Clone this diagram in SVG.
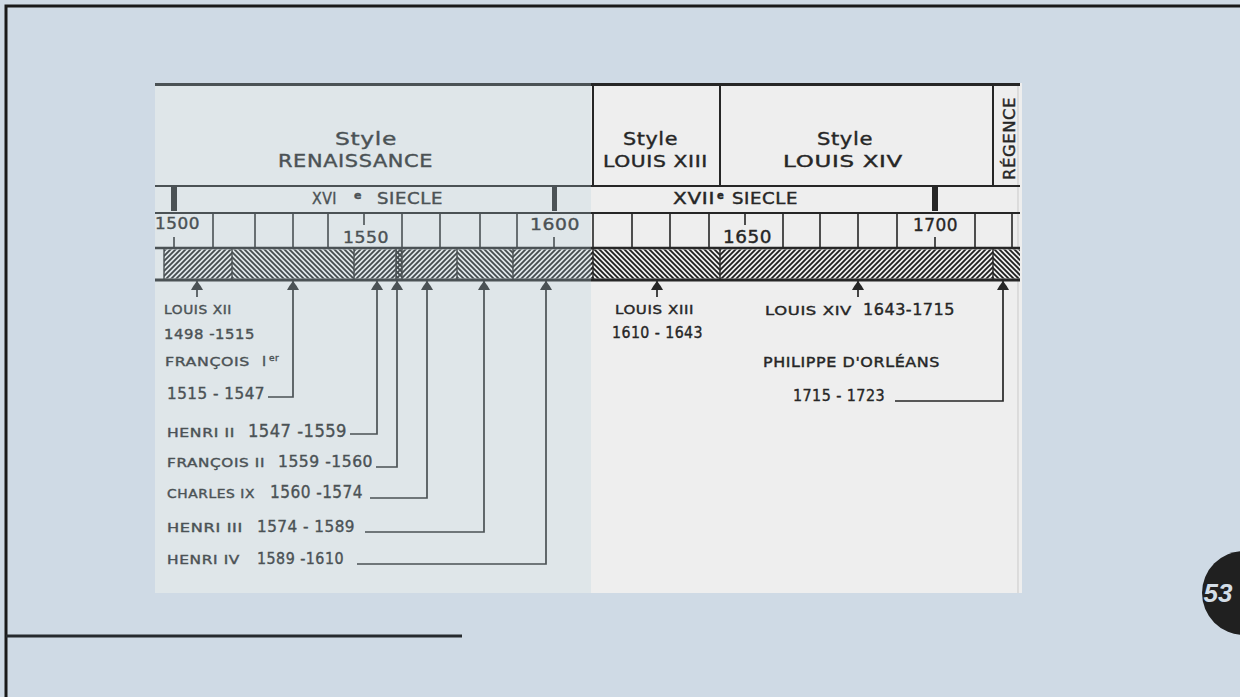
<svg xmlns="http://www.w3.org/2000/svg" width="1240" height="697" viewBox="0 0 1240 697">
<style>
.ink{stroke:#262626;fill:none}
.t{font-family:"DejaVu Sans","Liberation Sans",sans-serif;fill:#262626;stroke:#262626;stroke-width:0.4;letter-spacing:0.5px}
.cn{stroke:#262626;stroke-width:1.7;fill:none;marker-start:url(#ah)}
</style>
<defs>
<pattern id="hf" width="5" height="5" patternUnits="userSpaceOnUse"><path d="M-1,1 L1,-1 M0,5 L5,0 M4,6 L6,4" stroke="#1e1e1e" stroke-width="1.8"/></pattern>
<pattern id="hb" width="5" height="5" patternUnits="userSpaceOnUse"><path d="M-1,4 L1,6 M0,0 L5,5 M4,-1 L6,1" stroke="#1e1e1e" stroke-width="1.8"/></pattern>
<marker id="ah" viewBox="0 0 9 12" refX="9" refY="6" markerWidth="9" markerHeight="12" markerUnits="userSpaceOnUse" orient="auto-start-reverse"><path d="M0,0 Q4,2 9,6 Q4,10 0,12 Z" fill="#262626"/></marker>
</defs>
<rect width="1240" height="697" fill="#cfdae5"/>
<path d="M6,697 V6 H1240" stroke="#1a1a1a" stroke-width="3" fill="none"/>
<line x1="6" y1="636" x2="462" y2="636" stroke="#262a2e" stroke-width="3"/>

<g id="scan">
<rect x="155" y="83" width="867" height="510" fill="#eeeeee"/>
<line x1="1018" y1="83" x2="1018" y2="593" stroke="#c9c9c9" stroke-width="1"/>
<g id="grid" class="ink">
<line x1="155" y1="84.5" x2="1020" y2="84.5" stroke-width="3"/>
<line x1="155" y1="186" x2="1020" y2="186" stroke-width="2"/>
<line x1="155" y1="213" x2="1020" y2="213" stroke-width="2"/>
<line x1="155" y1="248" x2="1020" y2="248" stroke-width="2.5"/>
<line x1="155" y1="280" x2="1020" y2="280" stroke-width="3"/>
<path d="M593,84 V186 M720,84 V186 M993,84 V186" stroke-width="2"/>
<path d="M213,213 V248 M255,213 V248 M293,213 V248 M328,213 V248 M402,213 V248 M440,213 V248 M480,213 V248 M517,213 V248 M593,213 V248 M632,213 V248 M670,213 V248 M709,213 V248 M783,213 V248 M820,213 V248 M858,213 V248 M897,213 V248 M975,213 V248 M1012,213 V248" stroke-width="1.6"/>
<path d="M174,237 V248 M364,213 V225 M554,237 V248 M745,213 V225 M935,237 V248" stroke-width="1.6"/>
</g>
<g id="siecle-marks" fill="#262626">
<rect x="171" y="187" width="6" height="24"/>
<rect x="552" y="187" width="5" height="24"/>
<rect x="932" y="187" width="6" height="24"/>
</g>
<g id="hatch-band">
<rect x="164" y="249.5" width="68" height="29" fill="url(#hf)"/>
<rect x="232" y="249.5" width="122" height="29" fill="url(#hb)"/>
<rect x="354" y="249.5" width="42" height="29" fill="url(#hf)"/>
<rect x="396" y="249.5" width="6" height="29" fill="url(#hf)"/>
<rect x="396" y="249.5" width="6" height="29" fill="url(#hb)"/>
<rect x="402" y="249.5" width="55" height="29" fill="url(#hf)"/>
<rect x="457" y="249.5" width="56" height="29" fill="url(#hb)"/>
<rect x="513" y="249.5" width="80" height="29" fill="url(#hf)"/>
<rect x="593" y="249.5" width="127" height="29" fill="url(#hb)"/>
<rect x="720" y="249.5" width="273" height="29" fill="url(#hf)"/>
<rect x="993" y="249.5" width="27" height="29" fill="url(#hb)"/>
<path class="ink" d="M164,248 V280 M232,248 V280 M354,248 V280 M396,248 V280 M402,248 V280 M457,248 V280 M513,248 V280 M593,248 V280 M720,248 V280 M993,248 V280" stroke-width="1.4"/>
</g>
</g>

<g id="style-renaissance">
<text class="t" x="335" y="145" font-size="18" textLength="62" lengthAdjust="spacingAndGlyphs">Style</text>
<text class="t" x="278" y="167" font-size="17" textLength="155" lengthAdjust="spacingAndGlyphs">RENAISSANCE</text>
</g>
<g id="style-louis-xiii">
<text class="t" x="623" y="145" font-size="18" textLength="55" lengthAdjust="spacingAndGlyphs">Style</text>
<text class="t" x="603" y="167" font-size="16" textLength="105" lengthAdjust="spacingAndGlyphs">LOUIS XIII</text>
</g>
<g id="style-louis-xiv">
<text class="t" x="817" y="145" font-size="18" textLength="56" lengthAdjust="spacingAndGlyphs">Style</text>
<text class="t" x="783" y="167" font-size="16" textLength="120" lengthAdjust="spacingAndGlyphs">LOUIS XIV</text>
</g>
<g id="regence">
<text class="t" transform="translate(1015,180) rotate(-90)" font-size="15" textLength="83" lengthAdjust="spacingAndGlyphs">RÉGENCE</text>
</g>
<g id="xvi-siecle">
<text class="t" x="312" y="204" font-size="15" textLength="25" lengthAdjust="spacingAndGlyphs">XVI</text>
<text class="t" x="354" y="199" font-size="11" font-weight="bold">e</text>
<text class="t" x="377" y="204" font-size="15" textLength="66" lengthAdjust="spacingAndGlyphs">SIECLE</text>
</g>
<g id="xvii-siecle">
<text class="t" x="673" y="204" font-size="15" textLength="42" lengthAdjust="spacingAndGlyphs">XVII</text>
<text class="t" x="717" y="199" font-size="10" font-weight="bold">e</text>
<text class="t" x="732" y="204" font-size="15" textLength="66" lengthAdjust="spacingAndGlyphs">SIECLE</text>
</g>
<g id="years">
<text class="t" x="155" y="229" font-size="15" textLength="45" lengthAdjust="spacingAndGlyphs">1500</text>
<text class="t" x="343" y="243" font-size="16" textLength="46" lengthAdjust="spacingAndGlyphs">1550</text>
<text class="t" x="530" y="230" font-size="16" textLength="50" lengthAdjust="spacingAndGlyphs">1600</text>
<text class="t" x="723" y="243" font-size="17" textLength="49" lengthAdjust="spacingAndGlyphs">1650</text>
<text class="t" x="913" y="231" font-size="17" textLength="45" lengthAdjust="spacingAndGlyphs">1700</text>
</g>

<g id="connectors">
<path class="cn" d="M197,281 V297"/>
<path class="cn" d="M293,281 V397 H268"/>
<path class="cn" d="M377,281 V434 H350"/>
<path class="cn" d="M397,281 V467 H376"/>
<path class="cn" d="M427,281 V498 H370"/>
<path class="cn" d="M484,281 V532 H365"/>
<path class="cn" d="M546,281 V564 H357"/>
<path class="cn" d="M657,281 V297"/>
<path class="cn" d="M858,281 V297"/>
<path class="cn" d="M1003,281 V401 H895"/>
</g>

<g id="louis-xii">
<text class="t" x="164" y="314" font-size="12" textLength="68" lengthAdjust="spacingAndGlyphs">LOUIS XII</text>
<text class="t" x="164" y="339" font-size="14" textLength="91" lengthAdjust="spacingAndGlyphs">1498 -1515</text>
</g>
<g id="francois-i">
<text class="t" x="165" y="366" font-size="13" textLength="85" lengthAdjust="spacingAndGlyphs">FRANÇOIS</text>
<text class="t" x="262" y="366" font-size="14">I</text>
<text class="t" x="269" y="361" font-size="9">er</text>
<text class="t" x="167" y="399" font-size="15" textLength="98" lengthAdjust="spacingAndGlyphs">1515 - 1547</text>
</g>
<g id="henri-ii">
<text class="t" x="167" y="437" font-size="12" textLength="68" lengthAdjust="spacingAndGlyphs">HENRI II</text>
<text class="t" x="248" y="437" font-size="18" textLength="99" lengthAdjust="spacingAndGlyphs">1547 -1559</text>
</g>
<g id="francois-ii">
<text class="t" x="167" y="467" font-size="12" textLength="98" lengthAdjust="spacingAndGlyphs">FRANÇOIS II</text>
<text class="t" x="278" y="467" font-size="15" textLength="95" lengthAdjust="spacingAndGlyphs">1559 -1560</text>
</g>
<g id="charles-ix">
<text class="t" x="167" y="498" font-size="12" textLength="88" lengthAdjust="spacingAndGlyphs">CHARLES IX</text>
<text class="t" x="270" y="498" font-size="17" textLength="93" lengthAdjust="spacingAndGlyphs">1560 -1574</text>
</g>
<g id="henri-iii">
<text class="t" x="167" y="532" font-size="12" textLength="76" lengthAdjust="spacingAndGlyphs">HENRI III</text>
<text class="t" x="257" y="532" font-size="16" textLength="98" lengthAdjust="spacingAndGlyphs">1574 - 1589</text>
</g>
<g id="henri-iv">
<text class="t" x="167" y="564" font-size="12" textLength="73" lengthAdjust="spacingAndGlyphs">HENRI IV</text>
<text class="t" x="257" y="564" font-size="15" textLength="87" lengthAdjust="spacingAndGlyphs">1589 -1610</text>
</g>

<rect id="tint" x="155" y="83" width="436" height="510" fill="#b4d0de" opacity="0.26"/>

<g id="louis-xiii">
<text class="t" x="615" y="314" font-size="12.5" textLength="79" lengthAdjust="spacingAndGlyphs">LOUIS XIII</text>
<text class="t" x="612" y="338" font-size="16" textLength="91" lengthAdjust="spacingAndGlyphs">1610 - 1643</text>
</g>
<g id="louis-xiv">
<text class="t" x="765" y="315" font-size="13" textLength="87" lengthAdjust="spacingAndGlyphs">LOUIS XIV</text>
<text class="t" x="863" y="315" font-size="16" textLength="92" lengthAdjust="spacingAndGlyphs">1643-1715</text>
</g>
<g id="philippe">
<text class="t" x="763" y="367" font-size="13.5" textLength="177" lengthAdjust="spacingAndGlyphs">PHILIPPE D'ORLÉANS</text>
<text class="t" x="793" y="401" font-size="16" textLength="92" lengthAdjust="spacingAndGlyphs">1715 - 1723</text>
</g>

<g id="page-badge">
<circle cx="1244" cy="593" r="42" fill="#202020"/>
<text x="1218" y="602" text-anchor="middle" font-family="'Liberation Sans',Arial,sans-serif" font-size="26" font-weight="bold" font-style="italic" fill="#d3dde7">53</text>
</g>
</svg>
